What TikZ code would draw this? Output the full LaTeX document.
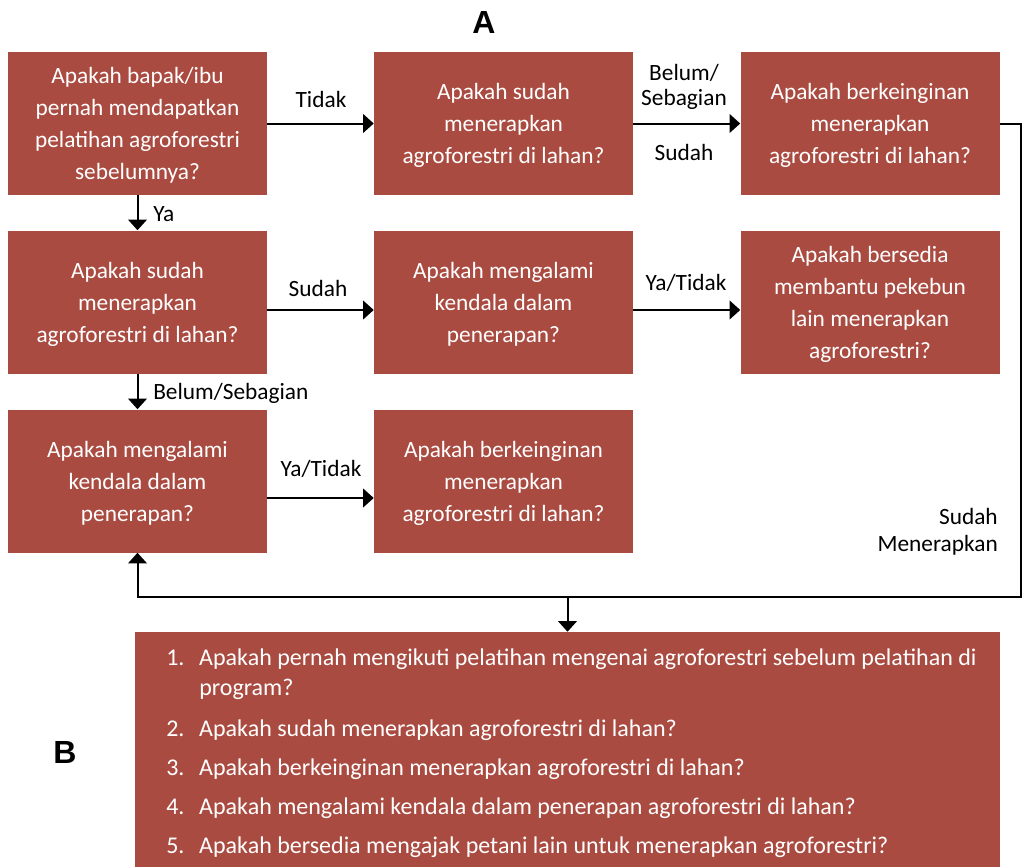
\documentclass[tikz,border=0pt]{standalone}
\usepackage{fontspec}
\setmainfont{Carlito}
\newfontfamily\headfont{Liberation Sans}
\usepackage{tikz}
\usetikzlibrary{arrows.meta}
\definecolor{boxred}{RGB}{170,75,65}
\tikzset{arrow/.style={-{Triangle[length=8pt,width=14pt]}, line width=1.5pt}}
\tikzset{qbox/.style={fill=boxred, text=white, align=center, inner sep=0pt,
    minimum width=194.25pt, minimum height=107.25pt, text depth=-5pt,
    font=\fontsize{17.5}{24}\selectfont}}
\tikzset{lbl/.style={align=center, inner sep=0pt, font=\fontsize{17.5}{19}\selectfont}}

\begin{document}
\begin{tikzpicture}[x=0.75pt, y=-0.75pt]
    \useasboundingbox (0,0) rectangle (1023,867);
    \node[font=\headfont\bfseries\fontsize{24}{28}\selectfont] (labA) at (484, 22) {A};
    \node[font=\headfont\bfseries\fontsize{24}{28}\selectfont] (labB) at (65, 752) {B};
    \node[qbox] (pelatihan) at (137.5, 123.5) {Apakah bapak/ibu\\pernah mendapatkan\\pelatihan agroforestri\\sebelumnya?};
    \node[qbox] (sudahA) at (503.5, 123.5) {Apakah sudah\\menerapkan\\agroforestri di lahan?};
    \node[qbox] (inginA) at (870, 123.5) {Apakah berkeinginan\\menerapkan\\agroforestri di lahan?};
    \node[qbox] (sudahB) at (137.5, 302) {Apakah sudah\\menerapkan\\agroforestri di lahan?};
    \node[qbox] (kendalaA) at (503.5, 302) {Apakah mengalami\\kendala dalam\\penerapan?};
    \node[qbox] (bersedia) at (870, 302) {Apakah bersedia\\membantu pekebun\\lain menerapkan\\agroforestri?};
    \node[qbox] (kendalaB) at (137.5, 481) {Apakah mengalami\\kendala dalam\\penerapan?};
    \node[qbox] (inginB) at (503.5, 481) {Apakah berkeinginan\\menerapkan\\agroforestri di lahan?};
    \node[fill=boxred, inner sep=0pt, minimum width=648.75pt, minimum height=176.25pt] (daftar) at (567.5, 749.5) {};
    \node[anchor=north west, inner sep=0pt, text=white, font=\fontsize{18}{22.5}\selectfont] (soal) at (166, 644) {%
      \begin{tabular}{@{}p{24.75pt}@{}l@{}}
        1. & Apakah pernah mengikuti pelatihan mengenai agroforestri sebelum pelatihan di\\
           & program?\\[8.5pt]
        2. & Apakah sudah menerapkan agroforestri di lahan?\\[7pt]
        3. & Apakah berkeinginan menerapkan agroforestri di lahan?\\[6.3pt]
        4. & Apakah mengalami kendala dalam penerapan agroforestri di lahan?\\[7pt]
        5. & Apakah bersedia mengajak petani lain untuk menerapkan agroforestri?
      \end{tabular}};
    % arrows between questions
    \draw[arrow] (pelatihan) -- (sudahA);
    \draw[arrow] (sudahA) -- (inginA);
    \draw[arrow] (pelatihan) -- (sudahB);
    \draw[arrow] ([yshift=-6pt]sudahB.east) -- ([yshift=-6pt]kendalaA.west);
    \draw[arrow] ([yshift=-6pt]kendalaA.east) -- ([yshift=-6pt]bersedia.west);
    \draw[arrow] (sudahB) -- (kendalaB);
    \draw[arrow] ([yshift=-12.75pt]kendalaB.east) -- ([yshift=-12.75pt]inginB.west);
    % loop back
    \coordinate (sudut) at (1021, 597);
    \coordinate (cabang) at (567.5, 597);
    \draw[arrow] (inginA.east) -- (inginA.east -| sudut) -- (sudut) -| (kendalaB.south);
    \draw[arrow] (cabang) -- (daftar.north);
    % labels
    \node[lbl] (tidak) at (321, 99) {Tidak};
    \node[lbl] (belum) at (684, 87) {Belum/\\Sebagian};
    \node[lbl] (sudah1) at (684, 152) {Sudah};
    \node[lbl, anchor=west] (ya) at (153, 214) {Ya};
    \node[lbl] (sudah2) at (318, 288) {Sudah};
    \node[lbl] (yatidak1) at (686, 283) {Ya/Tidak};
    \node[lbl, anchor=west] (belum2) at (153, 393) {Belum/Sebagian};
    \node[lbl] (yatidak2) at (321, 469) {Ya/Tidak};
    \node[lbl, anchor=east, align=right, font=\fontsize{17.5}{20.25}\selectfont] (sudahmen) at (998, 532) {Sudah\\Menerapkan};
\end{tikzpicture}
\end{document}
